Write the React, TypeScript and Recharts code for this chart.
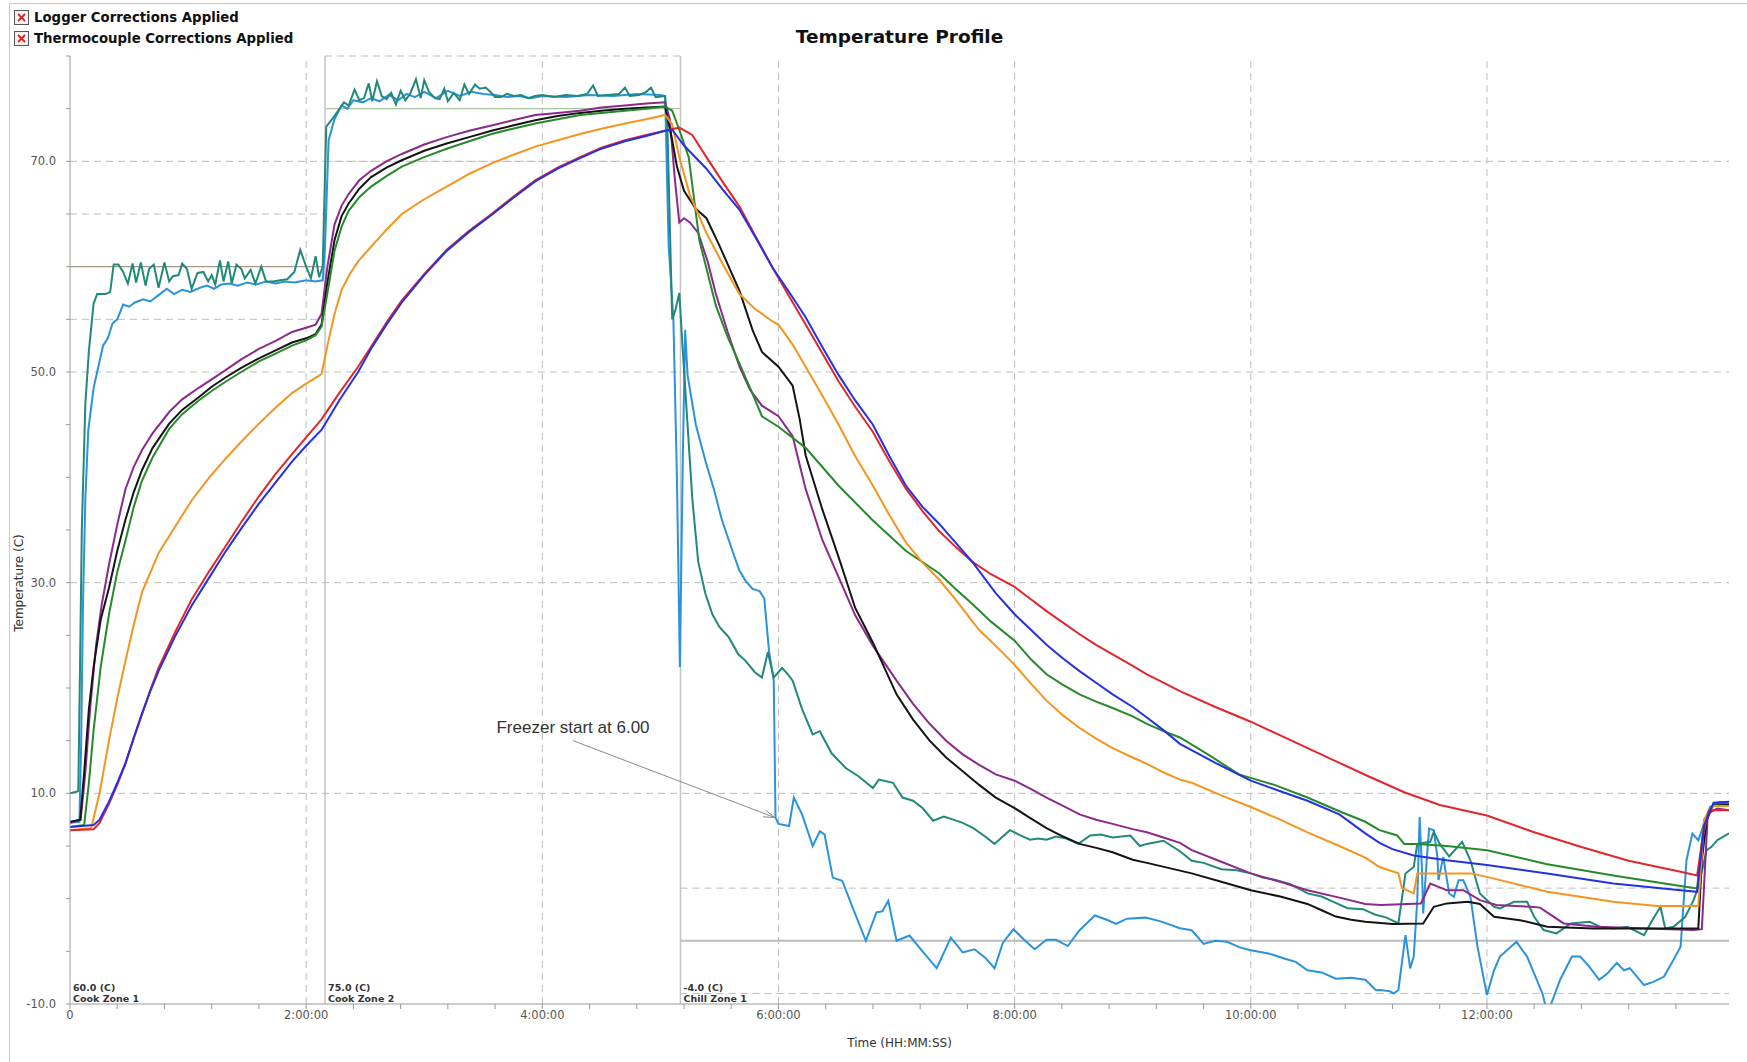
import React from 'react';
import { LineChart, Line, XAxis, YAxis, ReferenceLine, ReferenceDot } from 'recharts';

// process zones (start in hours, setpoint in C)
const zoneStarts = [0, 2.16, 5.17];
const zoneEnd = 14.05;
const zoneSetpoints = [60, 75, -4];
const zoneNames = ['Cook Zone 1', 'Cook Zone 2', 'Chill Zone 1'];
const zoneBand = 5;
const zoneLineColors = ['#a89686', '#a9c6a0', '#bcbcbc'];

const xTicks = [0, 0.4, 0.8, 1.2, 1.6, 2, 2.4, 2.8, 3.2, 3.6, 4, 4.4, 4.8, 5.2, 5.6, 6, 6.4, 6.8, 7.2, 7.6, 8, 8.4, 8.8, 9.2, 9.6, 10, 10.4, 10.8, 11.2, 11.6, 12, 12.4, 12.8, 13.2, 13.6];
const xMajor = [0, 2, 4, 6, 8, 10, 12];
const xMajorLabels = ['0', '2:00:00', '4:00:00', '6:00:00', '8:00:00', '10:00:00', '12:00:00'];
const yTicks = [-10, -5, 0, 5, 10, 15, 20, 25, 30, 35, 40, 45, 50, 55, 60, 65, 70, 75, 80];
const yLabelled = [-10, 10, 30, 50, 70];

const tealT = [0, 0.07, 0.085, 0.1, 0.13, 0.16, 0.2, 0.23, 0.3, 0.34, 0.37, 0.41, 0.45, 0.49, 0.53, 0.56, 0.6, 0.64, 0.67, 0.71, 0.75, 0.8, 0.84, 0.87, 0.92, 0.95, 0.99, 1.03, 1.08, 1.13, 1.17, 1.2, 1.23, 1.27, 1.3, 1.34, 1.37, 1.41, 1.45, 1.48, 1.53, 1.57, 1.62, 1.66, 1.72, 1.78, 1.84, 1.9, 1.95, 2.0, 2.04, 2.08, 2.11, 2.14, 2.17, 2.22, 2.27, 2.32, 2.36, 2.41, 2.45, 2.49, 2.53, 2.56, 2.6, 2.64, 2.68, 2.72, 2.76, 2.8, 2.84, 2.88, 2.93, 2.97, 3.0, 3.04, 3.09, 3.13, 3.17, 3.2, 3.25, 3.3, 3.34, 3.38, 3.43, 3.47, 3.52, 3.56, 3.6, 3.65, 3.7, 3.76, 3.82, 3.88, 3.94, 4.0, 4.1, 4.2, 4.3, 4.38, 4.43, 4.47, 4.55, 4.65, 4.7, 4.74, 4.82, 4.88, 4.92, 4.96, 5.04, 5.06, 5.1, 5.13, 5.16, 5.19, 5.23, 5.27, 5.32, 5.38, 5.44, 5.5, 5.58, 5.66, 5.72, 5.8, 5.86, 5.91, 5.96, 6.03, 6.08, 6.12, 6.2, 6.29, 6.35, 6.45, 6.57, 6.68, 6.8, 6.85, 6.97, 7.05, 7.14, 7.22, 7.31, 7.4, 7.48, 7.56, 7.65, 7.75, 7.83, 7.9, 7.96, 8.05, 8.13, 8.2, 8.27, 8.35, 8.44, 8.54, 8.64, 8.73, 8.83, 8.98, 9.06, 9.12, 9.26, 9.4, 9.5, 9.6, 9.75, 9.88, 10.0, 10.1, 10.2, 10.33, 10.4, 10.48, 10.6, 10.7, 10.82, 10.95, 11.05, 11.15, 11.25, 11.31, 11.38, 11.41, 11.52, 11.55, 11.6, 11.68, 11.79, 11.86, 11.94, 12.06, 12.11, 12.23, 12.34, 12.4, 12.48, 12.59, 12.71, 12.87, 12.96, 13.07, 13.19, 13.33, 13.4, 13.47, 13.51, 13.58, 13.68, 13.75, 13.79, 13.86, 13.9, 13.95, 14.05];
const tealV = [10, 10.2, 22, 35, 47, 52, 56.5, 57.4, 57.4, 57.6, 60.2, 60.2, 59.5, 58.4, 60.3, 58.5, 60.4, 58.2, 59.8, 60.2, 58.0, 60.4, 58.6, 59.1, 59.2, 60.3, 59.8, 57.9, 59.4, 59.5, 58.6, 59.2, 58.3, 60.6, 58.6, 60.5, 58.4, 60.2, 59.8, 58.9, 59.7, 58.4, 60.0, 58.6, 58.6, 58.7, 58.8, 59.5, 61.6, 60.0, 58.9, 61.0, 59.0, 60, 73.3, 74, 74.8, 75.6, 75.3, 76.8, 75.8, 76.0, 77.4, 75.7, 77.6, 76.2, 75.9, 76.5, 75.4, 76.7, 75.8, 76.4, 77.8, 76.0, 77.7, 76.6, 76.0, 75.9, 76.9, 75.7, 76.5, 75.8, 77.3, 76.4, 77.3, 76.9, 77.0, 76.6, 76.1, 76.1, 76.4, 76.2, 76.3, 76.0, 76.2, 76.3, 76.1, 76.3, 76.2, 76.4, 77.2, 76.2, 76.3, 76.4, 77.0, 76.2, 76.3, 76.6, 77.0, 76.1, 76.2, 73, 55, 56, 57.5, 52, 45, 38, 32, 29, 27, 25.8, 24.8, 23.2, 22.6, 21.5, 21.0, 23.4, 21.0, 21.9, 21.3, 20.7, 18, 15.6, 15.9, 13.8, 12.4, 11.6, 10.5, 11.3, 11.0, 9.6, 9.3, 8.6, 7.4, 7.8, 7.5, 7.2, 6.7, 5.9, 5.2, 5.9, 6.5, 6.0, 5.6, 5.7, 5.6, 5.9, 5.7, 5.2, 6.0, 6.1, 5.8, 6.0, 5.0, 5.2, 5.5, 4.5, 3.6, 3.4, 2.8, 2.7, 2.4, 2.0, 1.8, 1.4, 1.0, 0.5, 0.2, -0.3, -0.9, -1.0, -1.5, -1.8, -2.35, 2.39, 3.0, 5.2, 5.4, 6.34, 5.2, 4.0, 5.4, 3.65, 0.49, -0.77, -0.93, -0.3, -0.3, -1.72, -2.98, -3.3, -2.35, -2.2, -2.67, -2.83, -2.67, -3.46, -2.04, -0.77, -2.83, -2.67, -1.72, -0.14, 1.12, 4.6, 4.9, 5.55, 6.2];

const lightBlueT = [0, 0.08, 0.095, 0.11, 0.13, 0.155, 0.2, 0.24, 0.28, 0.32, 0.36, 0.4, 0.45, 0.5, 0.55, 0.62, 0.68, 0.75, 0.82, 0.88, 0.95, 1.02, 1.1, 1.16, 1.22, 1.28, 1.35, 1.42, 1.5, 1.58, 1.66, 1.74, 1.82, 1.9, 2.0, 2.08, 2.14, 2.16, 2.19, 2.24, 2.3, 2.35, 2.4, 2.48, 2.55, 2.62, 2.7, 2.78, 2.85, 2.92, 3.0, 3.1, 3.2, 3.3, 3.4, 3.5, 3.6, 3.7, 3.8, 3.9, 4.0, 4.2, 4.4, 4.6, 4.8, 5.0, 5.04, 5.07, 5.11, 5.14, 5.165, 5.19, 5.21, 5.23, 5.3, 5.385, 5.45, 5.52, 5.58, 5.667, 5.72, 5.78, 5.84, 5.88, 5.92, 5.96, 5.975, 6.0, 6.09, 6.13, 6.2, 6.29, 6.35, 6.39, 6.46, 6.54, 6.63, 6.74, 6.83, 6.88, 6.93, 7.0, 7.11, 7.22, 7.34, 7.46, 7.56, 7.66, 7.75, 7.83, 7.9, 7.99, 8.08, 8.17, 8.27, 8.35, 8.45, 8.55, 8.68, 8.78, 8.86, 8.95, 9.11, 9.25, 9.4, 9.5, 9.6, 9.7, 9.8, 9.9, 10.0, 10.15, 10.29, 10.38, 10.48, 10.6, 10.72, 10.85, 10.97, 11.06, 11.1, 11.18, 11.21, 11.25, 11.31, 11.35, 11.38, 11.41, 11.43, 11.45, 11.46, 11.49, 11.51, 11.55, 11.58, 11.59, 11.63, 11.68, 11.72, 11.76, 11.8, 11.86, 11.92, 12.0, 12.06, 12.11, 12.25, 12.34, 12.47, 12.51, 12.54, 12.62, 12.72, 12.79, 12.87, 12.95, 13.02, 13.1, 13.16, 13.21, 13.33, 13.41, 13.5, 13.58, 13.64, 13.69, 13.74, 13.79, 13.89, 13.97, 14.05];
const lightBlueV = [7.2, 7.3, 15, 28, 38, 44.5, 48.5, 50.5, 52.5, 53.2, 54.6, 55.0, 56.4, 56.2, 56.6, 56.9, 56.7, 57.3, 57.9, 57.4, 57.8, 57.6, 58.0, 58.2, 57.9, 58.3, 58.4, 58.2, 58.5, 58.3, 58.6, 58.4, 58.6, 58.5, 58.7, 58.6, 58.7, 62, 72, 74, 75.3, 75.0, 75.8, 75.6, 76.0, 75.7, 76.3, 75.8, 76.4, 76.1, 76.6, 76.0, 76.7, 76.2, 76.6, 76.4, 76.3, 76.1, 76.2, 76.0, 76.2, 76.1, 76.3, 76.2, 76.4, 76.3, 76.2, 62, 55, 40, 22, 42, 54, 49.7, 45, 41.4, 39, 36, 34, 31.2, 30.2, 29.4, 29.2, 28.5, 23.5, 20.7, 7.7, 7.1, 6.9, 9.6, 8.0, 5.0, 6.4, 6.1, 2.0, 1.7, -0.9, -4.0, -1.3, -1.2, -0.2, -4.0, -3.5, -5.0, -6.6, -3.7, -5.1, -4.8, -5.6, -6.6, -4.2, -2.9, -3.9, -4.8, -3.9, -3.9, -4.5, -3.0, -1.6, -2.0, -2.4, -1.9, -1.8, -2.2, -2.8, -3.0, -4.3, -4.0, -4.1, -4.6, -4.9, -5.2, -5.7, -6.0, -6.8, -7.0, -7.6, -7.5, -7.7, -8.7, -8.67, -8.8, -9.0, -8.67, -3.46, -6.62, -5.5, -0.14, 7.76, 2.7, -1.4, 3.65, 6.65, 6.5, 3.97, 1.76, 3.97, 0.49, 0.18, 1.76, 1.76, 0.18, -4.56, -9.15, -6.8, -5.5, -4.1, -5.5, -9.0, -10.8, -10.1, -7.7, -5.5, -5.5, -6.5, -7.7, -7.1, -6.1, -6.8, -6.6, -8.2, -7.9, -7.4, -5.8, -4.56, 3.65, 6.18, 5.55, 8.71, 9.18, 9.1];

const purpleT = [0, 0.09, 0.13, 0.17, 0.22, 0.27, 0.33, 0.4, 0.47, 0.54, 0.61, 0.7, 0.84, 0.95, 1.09, 1.2, 1.32, 1.45, 1.6, 1.75, 1.88, 2.0, 2.08, 2.13, 2.18, 2.24, 2.3, 2.36, 2.45, 2.55, 2.68, 2.81, 3.0, 3.19, 3.38, 3.57, 3.75, 3.94, 4.13, 4.32, 4.5, 4.7, 4.88, 5.04, 5.08, 5.12, 5.16, 5.2, 5.25, 5.32, 5.4, 5.47, 5.57, 5.67, 5.76, 5.86, 6.0, 6.12, 6.23, 6.37, 6.51, 6.65, 6.8, 7.0, 7.14, 7.28, 7.42, 7.56, 7.7, 7.84, 8.0, 8.14, 8.27, 8.41, 8.55, 8.69, 8.83, 9.0, 9.12, 9.26, 9.4, 9.5, 9.75, 10.0, 10.25, 10.48, 10.75, 10.97, 11.1, 11.44, 11.52, 11.59, 11.66, 11.8, 11.94, 12.08, 12.37, 12.45, 12.65, 12.93, 13.35, 13.75, 13.82, 13.87, 13.95, 14.05];
const purpleV = [7.2, 7.5, 12, 18, 24, 28, 31.7, 35.5, 38.9, 41, 42.6, 44.2, 46.2, 47.4, 48.5, 49.3, 50.2, 51.2, 52.2, 53.0, 53.8, 54.2, 54.5, 55.5, 60, 64, 65.8, 66.9, 68.2, 69.1, 70.0, 70.7, 71.6, 72.3, 72.9, 73.4, 73.9, 74.4, 74.6, 74.8, 75.1, 75.3, 75.5, 75.6, 74, 68.6, 64.2, 64.6, 64.2, 63.2, 60.5, 57.4, 53.8, 50.5, 48.3, 46.8, 45.8, 43.9, 38.9, 34.1, 30.5, 26.9, 24, 20.7, 18.5, 16.6, 15, 13.7, 12.7, 11.8, 11.2, 10.4, 9.6, 8.8, 8.0, 7.5, 7.1, 6.6, 6.3, 5.8, 5.3, 4.6, 3.5, 2.4, 1.6, 0.8, 0.1, -0.5, -0.6, -0.45, 1.44, 1.12, 0.81, 0.81, -0.14, -0.6, -0.77, -0.85, -2.35, -2.67, -2.83, -2.98, -2.9, 8.07, 8.55, 8.4];

const blackT = [0, 0.087, 0.12, 0.16, 0.2, 0.26, 0.33, 0.4, 0.47, 0.54, 0.61, 0.7, 0.84, 0.95, 1.09, 1.2, 1.32, 1.45, 1.6, 1.75, 1.88, 2.0, 2.08, 2.13, 2.18, 2.24, 2.3, 2.36, 2.45, 2.55, 2.68, 2.81, 3.0, 3.19, 3.38, 3.57, 3.75, 3.94, 4.13, 4.32, 4.5, 4.7, 4.88, 5.04, 5.1, 5.14, 5.2, 5.3, 5.39, 5.5, 5.67, 5.78, 5.86, 6.0, 6.12, 6.18, 6.23, 6.37, 6.51, 6.65, 6.8, 7.0, 7.14, 7.28, 7.42, 7.56, 7.7, 7.84, 8.0, 8.14, 8.27, 8.41, 8.55, 8.7, 8.83, 9.0, 9.12, 9.5, 9.75, 10.0, 10.25, 10.48, 10.6, 10.72, 10.85, 10.97, 11.2, 11.46, 11.55, 11.66, 11.84, 11.94, 12.06, 12.28, 12.4, 12.51, 12.9, 13.79, 13.82, 13.86, 13.92, 14.05];
const blackV = [7.3, 7.5, 12, 18, 22, 26.5, 29.5, 33, 36, 38.6, 40.7, 42.8, 45.1, 46.4, 47.6, 48.6, 49.5, 50.4, 51.3, 52.1, 52.8, 53.2, 53.6, 54.5, 58.5, 62.5, 64.8, 66, 67.4, 68.5, 69.4, 70.1, 71.0, 71.7, 72.3, 72.9, 73.4, 73.9, 74.3, 74.6, 74.8, 75, 75.1, 75.2, 72, 69.5, 67.2, 65.5, 64.6, 62, 57.7, 54, 51.9, 50.5, 48.7, 45.5, 42.1, 37, 32.4, 27.6, 24.3, 19.4, 17, 15, 13.4, 12.1, 10.8, 9.6, 8.6, 7.6, 6.7, 5.9, 5.2, 4.8, 4.4, 3.7, 3.4, 2.4, 1.6, 0.8, 0.2, -0.5, -1.1, -1.7, -2.0, -2.2, -2.4, -2.35, -0.77, -0.45, -0.3, -0.5, -1.72, -2.04, -2.35, -2.67, -2.83, -2.83, 3.65, 7.44, 9.02, 8.9];

const greenT = [0, 0.12, 0.16, 0.2, 0.26, 0.33, 0.4, 0.47, 0.54, 0.61, 0.7, 0.84, 0.95, 1.09, 1.2, 1.32, 1.45, 1.6, 1.75, 1.88, 2.0, 2.08, 2.13, 2.18, 2.24, 2.3, 2.36, 2.45, 2.55, 2.68, 2.81, 3.0, 3.19, 3.38, 3.57, 3.75, 3.94, 4.13, 4.32, 4.5, 4.7, 4.88, 5.04, 5.1, 5.16, 5.24, 5.33, 5.47, 5.57, 5.67, 5.77, 5.86, 6.0, 6.23, 6.51, 6.8, 7.08, 7.36, 7.5, 7.64, 7.8, 8.0, 8.14, 8.27, 8.41, 8.55, 8.69, 8.83, 9.0, 9.12, 9.26, 9.4, 9.65, 9.9, 10.2, 10.48, 10.75, 10.97, 11.09, 11.24, 11.3, 11.41, 11.66, 12.0, 12.5, 13.07, 13.64, 13.78, 13.84, 13.92, 14.05];
const greenV = [6.8, 7.0, 11, 16, 22, 27, 31, 34, 37.2, 39.7, 41.9, 44.6, 46, 47.3, 48.2, 49.1, 50, 51, 51.8, 52.5, 53, 53.5, 54.3, 57.5, 61.5, 63.8, 65.3, 66.6, 67.6, 68.6, 69.5, 70.4, 71.2, 71.9, 72.6, 73.1, 73.6, 74.0, 74.4, 74.6, 74.8, 75.0, 75.2, 74.8, 73, 70.4, 62.5, 56.3, 53.3, 50.8, 48.2, 45.8, 44.8, 42.8, 39.2, 35.9, 33, 30.9, 29.4, 28, 26.3, 24.5, 22.7, 21.3, 20.3, 19.4, 18.7, 18.1, 17.3, 16.6, 15.9, 15.3, 13.6, 11.8, 10.8, 9.6, 8.3, 7.3, 6.5, 6.0, 5.2, 5.2, 5.0, 4.6, 3.3, 2.2, 1.2, 0.97, 7.5, 9.0, 9.1];

const orangeT = [0, 0.18, 0.25, 0.33, 0.4, 0.47, 0.54, 0.61, 0.75, 0.9, 1.03, 1.18, 1.32, 1.46, 1.6, 1.74, 1.88, 2.0, 2.13, 2.18, 2.24, 2.3, 2.37, 2.44, 2.55, 2.68, 2.81, 3.0, 3.19, 3.38, 3.57, 3.75, 3.94, 4.13, 4.32, 4.5, 4.7, 4.88, 5.04, 5.1, 5.16, 5.25, 5.39, 5.53, 5.67, 5.8, 5.95, 6.0, 6.12, 6.23, 6.37, 6.51, 6.65, 6.8, 6.94, 7.08, 7.22, 7.36, 7.5, 7.7, 7.85, 8.0, 8.14, 8.27, 8.41, 8.55, 8.69, 8.83, 9.0, 9.12, 9.26, 9.4, 9.5, 9.75, 10.0, 10.25, 10.48, 10.75, 10.97, 11.09, 11.25, 11.28, 11.38, 11.41, 11.86, 12.0, 12.51, 13.07, 13.44, 13.79, 13.84, 13.92, 14.05];
const orangeV = [6.5, 6.7, 10, 15, 19, 22.6, 26, 29.1, 32.8, 35.5, 37.8, 40, 41.8, 43.5, 45.1, 46.6, 48, 48.9, 49.8, 52.5, 55.5, 57.8, 59.3, 60.5, 61.9, 63.5, 65, 66.4, 67.6, 68.8, 69.8, 70.6, 71.4, 72, 72.6, 73.1, 73.6, 74, 74.4, 73.5, 70.4, 66.8, 63.2, 60.2, 57.4, 56, 54.8, 54.5, 52.6, 50.5, 47.8, 45, 42, 39.2, 36.4, 33.8, 31.9, 30.3, 28.4, 25.5, 23.9, 22.2, 20.4, 18.8, 17.4, 16.2, 15.2, 14.3, 13.4, 12.8, 12, 11.3, 11.0, 9.8, 8.7, 7.5, 6.3, 5.0, 3.9, 3.0, 2.4, 1.0, 0.5, 2.4, 2.4, 2.07, 0.65, -0.3, -0.7, -0.7, 7.5, 8.8, 8.8];

const redT = [0, 0.2, 0.25, 0.33, 0.4, 0.47, 0.54, 0.61, 0.68, 0.75, 0.89, 1.03, 1.18, 1.32, 1.46, 1.6, 1.74, 1.88, 2.0, 2.13, 2.28, 2.44, 2.55, 2.68, 2.81, 3.0, 3.19, 3.38, 3.57, 3.75, 3.94, 4.13, 4.32, 4.5, 4.7, 4.88, 5.04, 5.16, 5.27, 5.39, 5.53, 5.67, 5.81, 5.95, 6.09, 6.23, 6.37, 6.51, 6.65, 6.8, 6.94, 7.08, 7.22, 7.36, 7.5, 7.64, 7.8, 8.0, 8.14, 8.27, 8.41, 8.55, 8.69, 8.83, 9.0, 9.12, 9.26, 9.4, 9.7, 10.0, 10.25, 10.5, 10.75, 11.0, 11.3, 11.6, 12.0, 12.4, 12.8, 13.2, 13.64, 13.78, 13.83, 13.88, 14.05];
const redV = [6.5, 6.6, 7.2, 9, 10.8, 12.8, 15.2, 17.5, 19.8, 21.9, 25.3, 28.4, 31.1, 33.5, 35.9, 38.2, 40.3, 42.2, 43.8, 45.5, 48, 50.5, 52.4, 54.7, 56.8, 59.3, 61.6, 63.4, 65, 66.6, 68.2, 69.4, 70.4, 71.3, 72, 72.5, 72.9, 73.2, 72.5, 70.4, 68, 65.7, 62.8, 59.9, 57.2, 54.5, 51.8, 49.1, 46.7, 44.3, 41.5, 38.9, 36.8, 34.9, 33.4, 32, 30.8, 29.6, 28.4, 27.3, 26.2, 25.1, 24.1, 23.2, 22.1, 21.3, 20.5, 19.7, 18.2, 16.8, 15.5, 14.2, 12.9, 11.6, 10.1, 8.9, 7.9, 6.3, 4.9, 3.6, 2.55, 2.2, 6, 8.4, 8.4];

const blueT = [0, 0.2, 0.25, 0.33, 0.4, 0.47, 0.54, 0.61, 0.68, 0.75, 0.89, 1.03, 1.18, 1.32, 1.46, 1.6, 1.74, 1.88, 2.0, 2.13, 2.28, 2.44, 2.55, 2.68, 2.81, 3.0, 3.19, 3.38, 3.57, 3.75, 3.94, 4.13, 4.32, 4.5, 4.7, 4.88, 5.04, 5.1, 5.2, 5.39, 5.53, 5.67, 5.81, 5.95, 6.09, 6.23, 6.37, 6.51, 6.65, 6.8, 6.94, 7.08, 7.22, 7.36, 7.5, 7.64, 7.84, 8.0, 8.14, 8.27, 8.41, 8.55, 8.69, 8.83, 9.0, 9.12, 9.26, 9.4, 9.7, 10.0, 10.25, 10.48, 10.75, 10.97, 11.09, 11.2, 11.38, 11.66, 12.0, 12.51, 13.07, 13.64, 13.78, 13.84, 13.92, 14.05];
const blueV = [6.8, 7.0, 7.5, 9.2, 11, 12.9, 15.3, 17.6, 19.7, 21.6, 24.9, 27.8, 30.5, 33, 35.3, 37.5, 39.5, 41.5, 43, 44.5, 47.3, 50, 52.2, 54.5, 56.6, 59.2, 61.5, 63.3, 64.9, 66.5, 68.1, 69.3, 70.3, 71.2, 71.9, 72.4, 72.9, 73, 71.5, 69.3, 67.3, 65.4, 62.7, 59.9, 57.6, 55.2, 52.4, 49.7, 47.3, 45, 42, 39.2, 37.2, 35.6, 33.8, 32, 29, 27, 25.5, 24.1, 22.8, 21.6, 20.5, 19.4, 18.2, 17.2, 16, 14.7, 12.9, 11.2, 10.2, 9.3, 8.0, 6.2, 5.3, 4.7, 4.1, 3.65, 3.2, 2.4, 1.44, 0.81, 0.65, 7, 9.1, 9.2];

const series = [
  { key: 'lightBlue', color: '#2b92dc', t: lightBlueT, v: lightBlueV },
  { key: 'teal', color: '#21897a', t: tealT, v: tealV },
  { key: 'purple', color: '#8a2a8c', t: purpleT, v: purpleV },
  { key: 'black', color: '#141414', t: blackT, v: blackV },
  { key: 'green', color: '#278a2a', t: greenT, v: greenV },
  { key: 'orange', color: '#f5951f', t: orangeT, v: orangeV },
  { key: 'red', color: '#e3262b', t: redT, v: redV },
  { key: 'blue', color: '#2431e2', t: blueT, v: blueV },
];

const FONT = '"DejaVu Sans", Verdana, sans-serif';
const GRID = '#bdbdbd';

const fmtX = (v: number) => {
  const i = xMajor.findIndex(m => Math.abs(m - v) < 1e-6);
  return i >= 0 ? xMajorLabels[i] : '';
};
const fmtY = (v: number) => (yLabelled.includes(v) ? v.toFixed(1) : '');

const zoneLabel = (i: number) => (p: any) => (
  <g>
    <text x={p.cx + 3} y={p.cy - 13} fontSize={9.5} fontWeight="bold" fill="#333" fontFamily={FONT}>
      {zoneSetpoints[i].toFixed(1)} (C)
    </text>
    <text x={p.cx + 3} y={p.cy - 2} fontSize={9.5} fontWeight="bold" fill="#333" fontFamily={FONT}>
      {zoneNames[i]}
    </text>
  </g>
);

const FreezerArrow = (p: any) => {
  const { x1, y1, x2, y2 } = p;
  const ang = Math.atan2(y2 - y1, x2 - x1);
  const len = 12;
  const sp = 0.3;
  const ax = x2 - len * Math.cos(ang - sp);
  const ay = y2 - len * Math.sin(ang - sp);
  const bx = x2 - len * Math.cos(ang + sp);
  const by = y2 - len * Math.sin(ang + sp);
  return (
    <g>
      <line x1={x1} y1={y1} x2={x2} y2={y2} stroke="#8a8a8a" strokeWidth={1} />
      <polyline points={`${ax},${ay} ${x2},${y2} ${bx},${by}`} fill="none" stroke="#8a8a8a" strokeWidth={1} />
      <text x={x1} y={y1 - 8} textAnchor="middle" fontSize={17} fill="#333" fontFamily='"Liberation Sans", Arial, sans-serif'>
        Freezer start at 6.00
      </text>
    </g>
  );
};

const CheckBox = ({ top, text }: { top: number; text: string }) => (
  <div style={{ position: 'absolute', left: 14, top, display: 'flex', alignItems: 'center' }}>
    <svg width={15} height={15} style={{ marginRight: 5 }}>
      <rect x={0.5} y={0.5} width={14} height={14} fill="#f4f4f4" stroke="#555" />
      <line x1={4} y1={4} x2={11} y2={11} stroke="#e02020" strokeWidth={1.8} />
      <line x1={11} y1={4} x2={4} y2={11} stroke="#e02020" strokeWidth={1.8} />
    </svg>
    <span style={{ fontFamily: FONT, fontWeight: 'bold', fontSize: 13.3, color: '#111' }}>{text}</span>
  </div>
);

export default function App() {
  return (
    <div style={{ position: 'absolute', left: 0, top: 0, width: 1747, height: 1062, background: '#fff', overflow: 'hidden' }}>
      <div style={{ position: 'absolute', left: 9, top: 3, width: 1760, height: 1100, borderLeft: '1px solid #c8c8c8', borderTop: '1px solid #c8c8c8' }} />
      <CheckBox top={10} text="Logger Corrections Applied" />
      <CheckBox top={31} text="Thermocouple Corrections Applied" />
      <div style={{ position: 'absolute', left: 0, width: 1799, top: 26, textAlign: 'center', fontFamily: FONT, fontWeight: 'bold', fontSize: 18.5, color: '#111' }}>
        Temperature Profile
      </div>
      <div style={{ position: 'absolute', left: 19, top: 583, transform: 'translate(-50%, -50%) rotate(-90deg)', fontFamily: FONT, fontSize: 12, color: '#333', whiteSpace: 'nowrap' }}>
        Temperature (C)
      </div>
      <div style={{ position: 'absolute', left: 0, width: 1799, top: 1036, textAlign: 'center', fontFamily: FONT, fontSize: 12, color: '#333' }}>
        Time (HH:MM:SS)
      </div>

      <div style={{ position: 'absolute', left: 0, top: 0 }}>
        <LineChart width={1747} height={1062} margin={{ top: 56, right: 18, bottom: 28, left: 20 }}>
          <XAxis
            type="number"
            dataKey="t"
            domain={[0, zoneEnd]}
            ticks={xTicks}
            interval={0}
            allowDataOverflow
            tickFormatter={fmtX}
            tickSize={5}
            height={30}
            stroke="#9a9a9a"
            tick={{ fontSize: 11.5, fill: '#555', fontFamily: FONT }}
          />
          <YAxis
            type="number"
            domain={[-10, 80]}
            ticks={yTicks}
            interval={0}
            allowDataOverflow
            tickFormatter={fmtY}
            tickSize={4}
            tickMargin={10}
            width={50}
            stroke="#9a9a9a"
            tick={{ fontSize: 11.5, fill: '#555', fontFamily: FONT }}
          />

          {yLabelled.filter(v => v > -10).map(v => (
            <ReferenceLine key={'gy' + v} y={v} stroke={GRID} strokeDasharray="7 5" />
          ))}
          {xMajor.filter(v => v > 0).map(v => (
            <ReferenceLine key={'gx' + v} x={v} stroke={GRID} strokeDasharray="7 5" />
          ))}

          {zoneStarts.map((s, i) => {
            const e = i < zoneStarts.length - 1 ? zoneStarts[i + 1] : zoneEnd;
            const sp = zoneSetpoints[i];
            return (
              <React.Fragment key={'z' + i}>
                <ReferenceLine segment={[{ x: s, y: sp + zoneBand }, { x: e, y: sp + zoneBand }]} stroke={GRID} strokeDasharray="7 5" />
                <ReferenceLine segment={[{ x: s, y: sp - zoneBand }, { x: e, y: sp - zoneBand }]} stroke={GRID} strokeDasharray="7 5" />
                <ReferenceLine segment={[{ x: s, y: sp }, { x: e, y: sp }]} stroke={zoneLineColors[i]} strokeWidth={i === 2 ? 2 : 1.2} />
                {i > 0 && <ReferenceLine x={s} stroke="#c4c4c4" strokeWidth={1.5} />}
                <ReferenceDot x={s} y={-10} r={0} shape={zoneLabel(i)} />
              </React.Fragment>
            );
          })}

          {series.map(s => (
            <Line
              key={s.key}
              data={s.t.map((t, i) => ({ t, v: s.v[i] }))}
              dataKey="v"
              type="linear"
              stroke={s.color}
              strokeWidth={2}
              dot={false}
              activeDot={false}
              isAnimationActive={false}
            />
          ))}

          <ReferenceLine segment={[{ x: 4.26, y: 15.0 }, { x: 5.97, y: 7.7 }]} shape={FreezerArrow} />
        </LineChart>
      </div>
    </div>
  );
}
